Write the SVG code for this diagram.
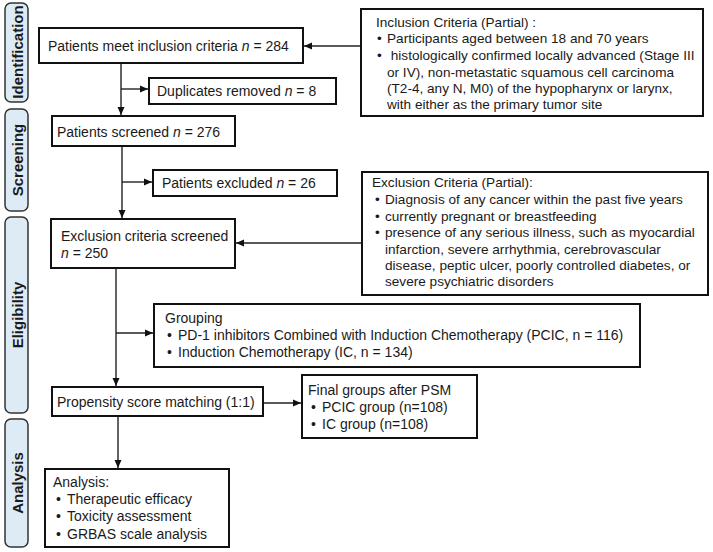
<svg xmlns="http://www.w3.org/2000/svg" width="713" height="552" viewBox="0 0 713 552">
<style>
.stage rect{fill:#DDEBF7;stroke:#333;stroke-width:1.5}
.stage text{font-family:"Liberation Sans",Arial,sans-serif;font-weight:bold;font-size:15px;fill:#1a1a1a;text-anchor:middle;dominant-baseline:central}
.box{fill:#fff;stroke:#111;stroke-width:2}
.t{font-family:"Liberation Sans",Arial,sans-serif;font-size:14px;fill:#1a1a1a}
.c{font-family:"Liberation Sans",Arial,sans-serif;font-size:13.6px;fill:#1a1a1a}
.conn line{stroke:#222;stroke-width:1.4;fill:none}
.i{font-style:italic}
</style>
<defs>
<marker id="ah" markerUnits="userSpaceOnUse" markerWidth="8" markerHeight="8" refX="8" refY="4" orient="auto">
<path d="M0,0.5 L8,4 L0,7.5 z" fill="#111"/>
</marker>
</defs>
<rect width="713" height="552" fill="#fff"/>

<g id="stage-identification" class="stage"><rect x="5" y="3" width="23" height="99" rx="6"/><text transform="translate(17,52) rotate(-90)">Identification</text></g>
<g id="stage-screening" class="stage"><rect x="5" y="109" width="23" height="102" rx="6"/><text transform="translate(17,160) rotate(-90)">Screening</text></g>
<g id="stage-eligibility" class="stage"><rect x="5" y="217" width="23" height="196" rx="6"/><text transform="translate(17,315) rotate(-90)">Eligibility</text></g>
<g id="stage-analysis" class="stage"><rect x="5" y="419" width="23" height="128" rx="6"/><text transform="translate(17,483) rotate(-90)">Analysis</text></g>

<g id="conn">
<g class="conn">
<line x1="360" y1="46" x2="304" y2="46" marker-end="url(#ah)"/>
<line x1="121" y1="63" x2="121" y2="115" marker-end="url(#ah)"/>
<line x1="121" y1="89" x2="148" y2="89" marker-end="url(#ah)"/>
<line x1="122" y1="146" x2="122" y2="218" marker-end="url(#ah)"/>
<line x1="122" y1="182" x2="152" y2="182" marker-end="url(#ah)"/>
<line x1="362" y1="243" x2="236" y2="243" marker-end="url(#ah)"/>
<line x1="116" y1="268" x2="116" y2="386" marker-end="url(#ah)"/>
<line x1="116" y1="333" x2="153" y2="333" marker-end="url(#ah)"/>
<line x1="263" y1="403" x2="301" y2="403" marker-end="url(#ah)"/>
<line x1="118" y1="416" x2="118" y2="468" marker-end="url(#ah)"/>
</g>
</g>

<g id="n-included"><rect class="box" x="39" y="28" width="264" height="35"/><text class="t" x="48" y="51">Patients meet inclusion criteria <tspan class="i">n</tspan> = 284</text></g>

<g id="n-inclusion-criteria"><rect class="box" x="361" y="9" width="342" height="107"/>
<text class="c" x="376" y="27">Inclusion Criteria (Partial) :</text>
<text class="c" x="377" y="43">•</text><text class="c" x="387" y="43">Participants aged between 18 and 70 years</text>
<text class="c" x="377" y="60">•</text><text class="c" x="387" y="60" xml:space="preserve"> histologically confirmed locally advanced (Stage III</text>
<text class="c" x="387" y="77">or IV), non-metastatic squamous cell carcinoma</text>
<text class="c" x="387" y="93">(T2-4, any N, M0) of the hypopharynx or larynx,</text>
<text class="c" x="387" y="109">with either as the primary tumor site</text>
</g>

<g id="n-duplicates"><rect class="box" x="149" y="78" width="187" height="26"/><text class="t" x="157" y="96">Duplicates removed <tspan class="i">n</tspan> = 8</text></g>

<g id="n-screened"><rect class="box" x="52" y="116" width="183" height="30"/><text class="t" x="57" y="137">Patients screened <tspan class="i">n</tspan> = 276</text></g>

<g id="n-excluded"><rect class="box" x="153" y="170" width="184" height="26"/><text class="t" x="162" y="188">Patients excluded <tspan class="i">n</tspan> = 26</text></g>

<g id="n-exclusion-criteria"><rect class="box" x="362" y="172" width="346" height="123"/>
<text class="c" x="372" y="187">Exclusion Criteria (Partial):</text>
<text class="c" x="375" y="204">•</text><text class="c" x="385" y="204">Diagnosis of any cancer within the past five years</text>
<text class="c" x="375" y="221">•</text><text class="c" x="385" y="221">currently pregnant or breastfeeding</text>
<text class="c" x="375" y="237">•</text><text class="c" x="385" y="237">presence of any serious illness, such as myocardial</text>
<text class="c" x="385" y="254">infarction, severe arrhythmia, cerebrovascular</text>
<text class="c" x="385" y="270">disease, peptic ulcer, poorly controlled diabetes, or</text>
<text class="c" x="385" y="286">severe psychiatric disorders</text>
</g>

<g id="n-exclusion-screened"><rect class="box" x="51" y="219" width="184" height="49"/>
<text class="t" x="61" y="241">Exclusion criteria screened</text>
<text class="t" x="61" y="258"><tspan class="i">n</tspan> = 250</text></g>

<g id="n-grouping"><rect class="box" x="154" y="304" width="486" height="63"/>
<text class="t" x="165" y="323">Grouping</text>
<text class="t" x="167" y="340">•</text><text class="t" x="178" y="340">PD-1 inhibitors Combined with Induction Chemotherapy (PCIC, n = 116)</text>
<text class="t" x="167" y="357">•</text><text class="t" x="178" y="357">Induction Chemotherapy (IC, n = 134)</text>
</g>

<g id="n-psm"><rect class="box" x="52" y="387" width="211" height="29"/><text class="t" x="57" y="407">Propensity score matching (1:1)</text></g>

<g id="n-final"><rect class="box" x="302" y="375" width="175" height="63"/>
<text class="t" x="308" y="395">Final groups after PSM</text>
<text class="t" x="311" y="412">•</text><text class="t" x="322" y="412">PCIC group (n=108)</text>
<text class="t" x="311" y="429">•</text><text class="t" x="322" y="429">IC group (n=108)</text>
</g>

<g id="n-analysis"><rect class="box" x="45" y="469" width="184" height="78"/>
<text class="t" x="53" y="487">Analysis:</text>
<text class="t" x="56" y="504">•</text><text class="t" x="67" y="504">Therapeutic efficacy</text>
<text class="t" x="56" y="521">•</text><text class="t" x="67" y="521">Toxicity assessment</text>
<text class="t" x="56" y="539">•</text><text class="t" x="67" y="539">GRBAS scale analysis</text>
</g>
</svg>
